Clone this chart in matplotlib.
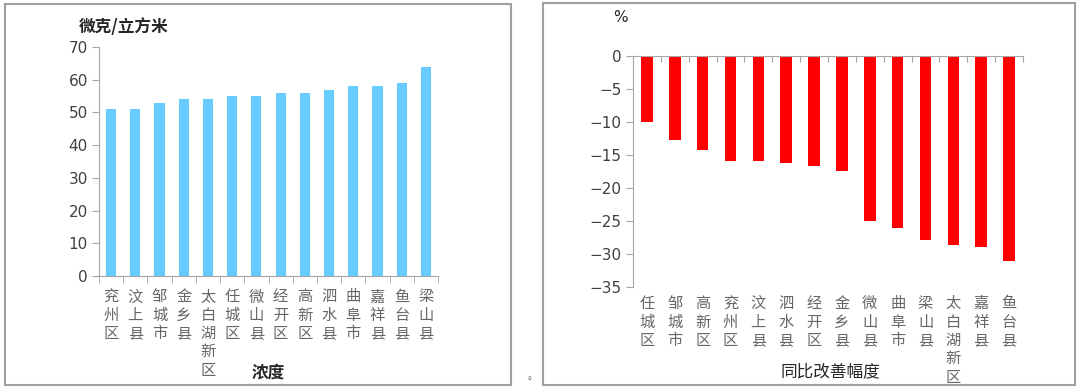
import matplotlib
matplotlib.use("Agg")
import matplotlib.pyplot as plt
from matplotlib.patches import Rectangle

plt.rcParams['font.family'] = ['Noto Sans CJK SC', 'DejaVu Sans']

# 浓度 (微克/立方米)
quxian_nd = ['兖州区', '汶上县', '邹城市', '金乡县', '太白湖新区', '任城区', '微山县',
             '经开区', '高新区', '泗水县', '曲阜市', '嘉祥县', '鱼台县', '梁山县']
valori_nd = [51, 51, 53, 54, 54, 55, 55, 56, 56, 57, 58, 58, 59, 64]

# 同比改善幅度 (%)
quxian_tb = ['任城区', '邹城市', '高新区', '兖州区', '汶上县', '泗水县', '经开区', '金乡县',
             '微山县', '曲阜市', '梁山县', '太白湖新区', '嘉祥县', '鱼台县']
valori_tb = [-10.0, -12.8, -14.2, -15.9, -15.9, -16.2, -16.7, -17.4,
             -25.0, -26.1, -27.9, -28.6, -28.9, -31.1]

assi_col = '#a6a6a6'
testo_col = '#404040'
label_col = '#666666'

fig = plt.figure(figsize=(10.8, 3.88), dpi=100)

# cornici dei due pannelli
W, H = 1080, 388
for (x0, y0, x1, y1) in [(5, 4, 511, 385), (543, 3, 1075, 385)]:
    fig.add_artist(Rectangle((x0 / W, 1 - y1 / H), (x1 - x0) / W, (y1 - y0) / H,
                             transform=fig.transFigure, fill=False,
                             edgecolor='#a0a0a0', linewidth=1.5))
fig.text(533 / W, 1 - 376 / H, '。', fontsize=7, color='#555555', ha='center', va='center')

def vert(s):
    return '\n'.join(s)

# ---- grafico sinistro ----
ax1 = fig.add_axes([99 / W, 1 - 276 / H, (438 - 99) / W, (276 - 47) / H])
ax1.bar(range(len(valori_nd)), valori_nd, width=0.42, color='#66ccff')
ax1.set_xlim(-0.5, len(valori_nd) - 0.5)
ax1.set_ylim(0, 70)
ax1.set_yticks(range(0, 71, 10))
ax1.set_xticks(range(len(quxian_nd)))
ax1.set_xticklabels([vert(q) for q in quxian_nd], fontsize=11, color=label_col,
                    linespacing=1.1)
ax1.set_xticks([i - 0.5 for i in range(len(quxian_nd) + 1)], minor=True)
ax1.tick_params(axis='x', which='major', length=0, pad=9)
ax1.tick_params(axis='x', which='minor', length=5, color=assi_col)
ax1.tick_params(axis='y', length=5, color=assi_col, labelsize=11, labelcolor=testo_col,
                pad=3)
for lab in ax1.get_yticklabels():
    lab.set_family(['DejaVu Sans'])
for s in ['top', 'right']:
    ax1.spines[s].set_visible(False)
for s in ['left', 'bottom']:
    ax1.spines[s].set_color(assi_col)
fig.text(124 / W, 1 - 27 / H, '微克/立方米', fontsize=12, fontweight='bold',
         color='#262626', ha='center', va='center')
fig.text(268 / W, 1 - 372 / H, '浓度', fontsize=12, fontweight='bold',
         color='#262626', ha='center', va='center')

# ---- grafico destro ----
ax2 = fig.add_axes([633 / W, 1 - 287 / H, (1023 - 633) / W, (287 - 56) / H])
ax2.bar(range(len(valori_tb)), valori_tb, width=0.42, color='#ff0000')
ax2.set_xlim(-0.5, len(valori_tb) - 0.5)
ax2.set_ylim(-35, 0)
ax2.set_yticks(range(-35, 1, 5))
ax2.spines['bottom'].set_position(('data', 0))
ax2.set_xticks([i - 0.5 for i in range(len(quxian_tb) + 1)])
ax2.set_xticklabels([])
ax2.tick_params(axis='x', length=4, color=assi_col)
ax2.tick_params(axis='y', length=5, color=assi_col, labelsize=11, labelcolor=testo_col,
                pad=3)
for lab in ax2.get_yticklabels():
    lab.set_family(['DejaVu Sans'])
for s in ['top', 'right']:
    ax2.spines[s].set_visible(False)
for s in ['left', 'bottom']:
    ax2.spines[s].set_color(assi_col)
for i, q in enumerate(quxian_tb):
    ax2.annotate(vert(q), xy=(i, -35), xytext=(0, -6), textcoords='offset points',
                 ha='center', va='top', fontsize=11, color=label_col,
                 linespacing=1.1, annotation_clip=False)
fig.text(620 / W, 1 - 17 / H, '%', fontsize=11,
         color='#262626', ha='center', va='center', family=['DejaVu Sans'])
fig.text(830 / W, 1 - 372 / H, '同比改善幅度', fontsize=12,
         color='#262626', ha='center', va='center')

fig.savefig('out.png', dpi=100)
